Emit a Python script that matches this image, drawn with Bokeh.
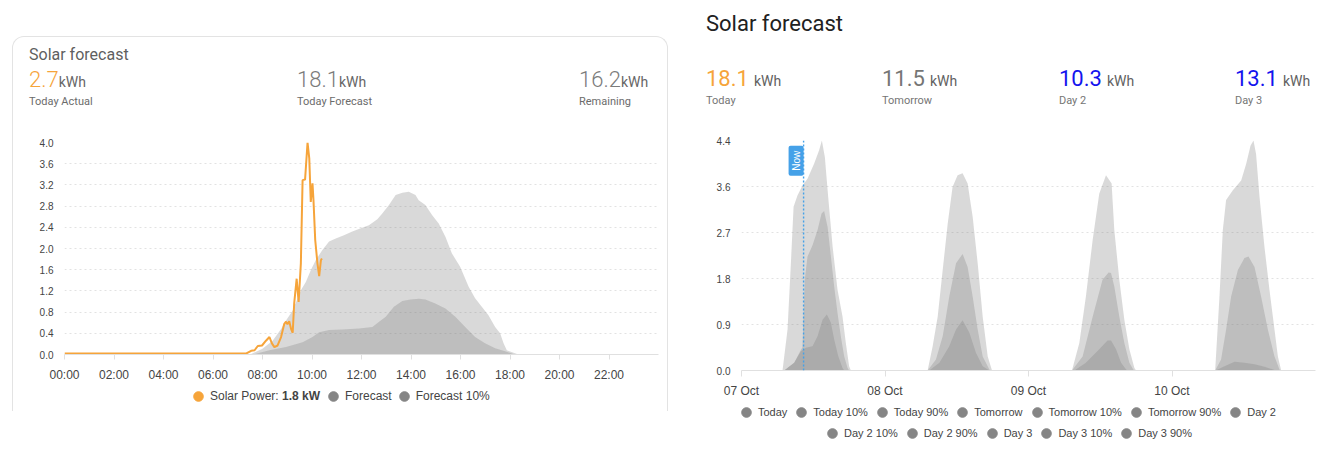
import math
import pandas as pd
from bokeh.plotting import figure
from bokeh.models import (ColumnDataSource, Div, Spacer, Legend, LegendItem,
                          FixedTicker, DatetimeTickFormatter, Span, Label, Range1d)
from bokeh.layouts import row, column
from bokeh.core.properties import value
from bokeh.embed import file_html
from bokeh.resources import INLINE

# ------------------------------------------------------------------ data
day0 = "2023-10-07"
now_time = "2023-10-07 10:23"

left_title = "Solar forecast"
left_values = ["2.7", "18.1", "16.2"]
left_labels = ["Today Actual", "Today Forecast", "Remaining"]
right_title = "Solar forecast"
right_values = ["18.1", "11.5", "10.3", "13.1"]
right_labels = ["Today", "Tomorrow", "Day 2", "Day 3"]
unit = "kWh"

# left chart: today's measured power and forecast (hours of day, kW)
solar_h = [0.0, 7.35, 7.54, 7.68, 7.81, 7.98, 8.14, 8.28, 8.38, 8.48, 8.61, 8.75, 8.88,
           8.95, 9.01, 9.08, 9.15, 9.22, 9.28, 9.38, 9.46, 9.55, 9.62, 9.72, 9.82, 9.89,
           9.95, 10.02, 10.06, 10.13, 10.22, 10.29, 10.36, 10.40]
solar_kw = [0.02, 0.02, 0.07, 0.08, 0.16, 0.17, 0.26, 0.33, 0.21, 0.14, 0.17, 0.33, 0.58,
            0.62, 0.57, 0.63, 0.49, 0.41, 0.96, 1.43, 0.99, 1.72, 3.29, 3.30, 4.00, 3.70,
            2.88, 3.23, 2.91, 2.16, 1.72, 1.48, 1.78, 1.81]
forecast_h = [7.50, 8.00, 8.41, 8.75, 8.95, 9.22, 9.55, 9.75, 9.95, 10.15, 10.42, 10.69,
              10.96, 11.29, 11.63, 11.97, 12.30, 12.64, 12.84, 13.11, 13.38, 13.65, 13.91,
              14.18, 14.31, 14.58, 14.85, 15.12, 15.39, 15.65, 15.99, 16.33, 16.59, 16.86,
              17.13, 17.40, 17.60, 17.74, 17.87, 18.34]
forecast_kw = [0.00, 0.11, 0.26, 0.48, 0.64, 0.83, 1.21, 1.37, 1.59, 1.78, 1.97, 2.13,
               2.19, 2.25, 2.32, 2.38, 2.44, 2.55, 2.66, 2.82, 3.01, 3.05, 3.07,
               3.01, 2.91, 2.82, 2.63, 2.47, 2.22, 1.91, 1.65, 1.28, 1.06, 0.90,
               0.74, 0.52, 0.40, 0.21, 0.08, 0.00]
forecast10_h = [7.60, 8.28, 8.95, 9.62, 10.02, 10.29, 10.69, 11.23, 11.90, 12.44, 12.71,
                12.98, 13.31, 13.65, 13.98, 14.32, 14.58, 14.98, 15.39, 15.79, 16.19,
                16.59, 16.99, 17.40, 17.80, 18.20]
forecast10_kw = [0.00, 0.08, 0.14, 0.23, 0.33, 0.42, 0.46, 0.47, 0.49, 0.52, 0.62,
                 0.71, 0.90, 1.01, 1.04, 1.05, 1.04, 0.96, 0.87, 0.71, 0.52,
                 0.33, 0.21, 0.12, 0.06, 0.00]
left_y_ticks = [0.0, 0.4, 0.8, 1.2, 1.6, 2.0, 2.4, 2.8, 3.2, 3.6, 4.0]
left_y_labels = ["0.0", "0.4", "0.8", "1.2", "1.6", "2.0", "2.4", "2.8", "3.2", "3.6", "4.0"]
left_x_hours = [0, 2, 4, 6, 8, 10, 12, 14, 16, 18, 20, 22]
left_legend = ["Solar Power:", "1.8 kW", "Forecast", "Forecast 10%"]

# right chart: four days of forecasts (hours of that day, kW)
today_h = [7.13, 8.81, 9.94, 10.20, 10.58, 11.04, 11.88, 12.72, 13.39, 13.82, 14.40, 14.95,
           15.50, 16.06, 16.61, 17.18, 17.74, 18.00]
today_kw = [0, 0.15, 0.40, 0.45, 1.75, 2.20, 2.42, 2.71, 3.03, 3.08, 2.77, 2.20,
            1.62, 1.11, 0.66, 0.27, 0.05, 0]
today10_h = [7.13, 8.81, 9.94, 10.76, 11.88, 12.72, 13.56, 14.28, 14.95, 15.50, 16.17, 16.89, 17.18]
today10_kw = [0, 0.15, 0.37, 0.44, 0.47, 0.66, 0.98, 1.08, 0.92, 0.60, 0.28, 0.05, 0]
today90_h = [6.86, 7.70, 8.26, 8.71, 9.36, 10.20, 11.04, 12.14, 12.98, 13.44, 13.94, 14.50,
             15.24, 16.06, 16.90, 17.45, 18.00, 18.29]
today90_kw = [0, 0.79, 2.07, 3.16, 3.38, 3.57, 3.70, 3.99, 4.25, 4.44, 4.12, 3.35,
              2.39, 1.56, 1.04, 0.53, 0.08, 0]
tomorrow_h = [7.13, 8.52, 9.65, 10.75, 11.88, 12.98, 13.82, 14.66, 15.50, 16.34, 17.45, 17.60]
tomorrow_kw = [0, 0.21, 0.66, 1.43, 2.07, 2.25, 2.00, 1.43, 0.79, 0.27, 0.02, 0]
tomorrow10_h = [7.39, 9.10, 10.75, 11.88, 12.98, 14.11, 15.22, 16.34, 17.45]
tomorrow10_kw = [0, 0.15, 0.47, 0.79, 0.97, 0.73, 0.34, 0.08, 0]
tomorrow90_h = [7.13, 7.97, 8.81, 9.65, 10.49, 11.30, 12.14, 12.98, 13.82, 14.66, 15.50,
                16.34, 17.18, 17.90]
tomorrow90_kw = [0, 0.47, 1.04, 1.94, 2.84, 3.54, 3.77, 3.81, 3.61, 2.97, 2.07, 1.04, 0.27, 0]
day2_h = [7.27, 9.05, 10.73, 12.38, 13.39, 13.80, 14.35, 15.19, 16.03, 16.87, 17.52, 17.70]
day2_kw = [0, 0.27, 1.04, 1.75, 1.89, 1.88, 1.62, 1.04, 0.53, 0.15, 0.02, 0]
day2_10_h = [7.68, 9.60, 11.83, 13.22, 13.80, 14.64, 15.48, 16.32, 16.60]
day2_10_kw = [0, 0.15, 0.41, 0.58, 0.58, 0.41, 0.15, 0.02, 0]
day2_90_h = [7.27, 8.50, 9.60, 10.73, 11.83, 12.96, 13.90, 14.35, 15.19, 16.03, 16.87, 17.71, 18.00]
day2_90_kw = [0, 0.53, 1.43, 2.52, 3.41, 3.77, 3.61, 2.71, 1.75, 0.98, 0.41, 0.05, 0]
day3_h = [7.22, 8.21, 9.05, 9.89, 11.02, 12.12, 12.79, 13.80, 14.90, 16.03, 17.14, 17.98, 18.10]
day3_kw = [0, 0.21, 0.79, 1.43, 1.94, 2.17, 2.20, 2.00, 1.43, 0.79, 0.27, 0.02, 0]
day3_10_h = [7.32, 8.78, 10.46, 12.12, 13.80, 15.46, 17.14, 17.40]
day3_10_kw = [0, 0.08, 0.17, 0.15, 0.12, 0.07, 0.01, 0]
day3_90_h = [7.22, 7.94, 8.50, 9.05, 10.18, 11.57, 12.41, 13.13, 13.63, 14.06, 14.64, 15.46,
             16.30, 17.14, 17.71, 18.26]
day3_90_kw = [0, 1.43, 2.71, 3.29, 3.48, 3.67, 3.99, 4.34, 4.44, 4.18, 3.35, 2.39,
              1.56, 0.79, 0.27, 0]

right_series_names = ["Today", "Today 10%", "Today 90%", "Tomorrow", "Tomorrow 10%",
                      "Tomorrow 90%", "Day 2", "Day 2 10%", "Day 2 90%", "Day 3",
                      "Day 3 10%", "Day 3 90%"]
right_series_day = [0, 0, 0, 1, 1, 1, 2, 2, 2, 3, 3, 3]
right_series_h = [today_h, today10_h, today90_h, tomorrow_h, tomorrow10_h, tomorrow90_h,
                  day2_h, day2_10_h, day2_90_h, day3_h, day3_10_h, day3_90_h]
right_series_kw = [today_kw, today10_kw, today90_kw, tomorrow_kw, tomorrow10_kw, tomorrow90_kw,
                   day2_kw, day2_10_kw, day2_90_kw, day3_kw, day3_10_kw, day3_90_kw]
right_y_ticks = [0.0, 0.888, 1.776, 2.664, 3.552, 4.44]
right_y_labels = ["0.0", "0.9", "1.8", "2.7", "3.6", "4.4"]
right_x_days = [0, 1, 2, 3]
right_days_span = 4

# ------------------------------------------------------------------ styles
ORANGE = "#f6a43a"
AREA = "#7c7c7c"
AREA_ALPHA = 0.29
DOT_GRAY = "#858585"
GRID = "#e2e2e2"
AXIS = "#e0e0e0"
TXT = "#444444"
NOW_BLUE = "#45a1e8"
CHART_FONT = "Liberation Sans"
HEAD_FONT = "Roboto"

base = pd.Timestamp(day0)


def to_times(day, hours):
    return (base + pd.to_timedelta([day * 24 + h for h in hours], unit="h")).to_numpy()


def ms(ts):
    return pd.Timestamp(ts).value / 1e6


def style_fig(p, ytick_vals, ytick_labels, xtick_out, xstandoff):
    p.outline_line_color = None
    p.background_fill_color = "white"
    p.border_fill_color = "white"
    p.xgrid.grid_line_color = None
    p.ygrid.grid_line_color = GRID
    p.ygrid.grid_line_dash = "2 3"
    p.yaxis.ticker = FixedTicker(ticks=ytick_vals)
    p.yaxis.major_label_overrides = dict(zip(ytick_vals, ytick_labels))
    p.yaxis.axis_line_color = None
    p.yaxis.major_tick_line_color = None
    p.yaxis.minor_tick_line_color = None
    p.yaxis.major_tick_out = 0
    p.yaxis.major_label_standoff = 11
    p.yaxis.major_label_text_font = CHART_FONT
    p.yaxis.major_label_text_font_size = "10px"
    p.yaxis.major_label_text_color = TXT
    p.xaxis.axis_line_color = AXIS
    p.xaxis.major_tick_line_color = AXIS
    p.xaxis.minor_tick_line_color = None
    p.xaxis.major_tick_in = 0
    p.xaxis.major_tick_out = xtick_out
    p.xaxis.major_label_standoff = xstandoff
    p.xaxis.major_label_text_font = CHART_FONT
    p.xaxis.major_label_text_font_size = "12px"
    p.xaxis.major_label_text_color = TXT


def legend_fig(width, height):
    # a strip below each chart that carries only the legend (its view range is empty)
    f = figure(width=width, height=height, x_range=Range1d(0, 1), y_range=Range1d(0, 1),
               output_backend="svg", toolbar_location=None, x_axis_location=None,
               y_axis_location=None, min_border=0)
    f.outline_line_color = None
    f.grid.grid_line_color = None
    f.background_fill_color = "white"
    f.border_fill_color = "white"
    return f


def make_legend(items, loc, font_size, spacing, bold=False, glyph=24):
    return Legend(items=items, location=loc, orientation="horizontal",
                  glyph_width=glyph, glyph_height=24, label_standoff=0,
                  spacing=spacing, padding=0, margin=0,
                  border_line_color=None, background_fill_alpha=0,
                  label_text_font=CHART_FONT, label_text_font_size=font_size,
                  label_text_color=TXT,
                  label_text_font_style="bold" if bold else "normal")


def dot(f, source, color, visible=True):
    # series points, outside the legend strip's view; only their legend marker shows
    return f.scatter(x="x", y="y", source=source, marker="circle", fill_color=color,
                     line_color=color, fill_alpha=1 if visible else 0,
                     line_alpha=1 if visible else 0)


# ------------------------------------------------------------------ left chart
p1 = figure(width=654, height=254, x_axis_type="datetime",
            x_range=Range1d(base.to_pydatetime(), (base + pd.Timedelta(hours=24)).to_pydatetime()),
            y_range=Range1d(0, 4.0), output_backend="svg", toolbar_location=None,
            min_border_left=51, min_border_right=9, min_border_top=12, min_border_bottom=30)
style_fig(p1, left_y_ticks, left_y_labels, 5, 8)
p1.xaxis.ticker = FixedTicker(ticks=[ms(base + pd.Timedelta(hours=h)) for h in left_x_hours])
p1.xaxis.formatter = DatetimeTickFormatter(hours="%H:%M", hourmin="%H:%M", minutes="%H:%M",
                                           days="%H:%M")

src_fc = ColumnDataSource(dict(x=to_times(0, forecast_h), y=forecast_kw))
src_fc10 = ColumnDataSource(dict(x=to_times(0, forecast10_h), y=forecast10_kw))
src_solar = ColumnDataSource(dict(x=to_times(0, solar_h), y=solar_kw))
p1.varea(x="x", y1=0, y2="y", source=src_fc, fill_color=AREA, fill_alpha=AREA_ALPHA)
p1.varea(x="x", y1=0, y2="y", source=src_fc10, fill_color=AREA, fill_alpha=AREA_ALPHA)
p1.line(x="x", y="y", source=src_solar, line_color=ORANGE, line_width=2)

pl1 = legend_fig(654, 27)
d_solar = dot(pl1, src_solar, ORANGE)
d_blank = dot(pl1, src_solar, ORANGE, visible=False)
d_fc = dot(pl1, src_fc, DOT_GRAY)
d_fc10 = dot(pl1, src_fc10, DOT_GRAY)
pl1.add_layout(make_legend([LegendItem(label=value(left_legend[0]), renderers=[d_solar])],
                           (122, 3), "12px", 0))
pl1.add_layout(make_legend([LegendItem(label=value(left_legend[1]), renderers=[d_blank])],
                           (217, 3), "12px", 0, bold=True, glyph=1))
pl1.add_layout(make_legend([LegendItem(label=value(left_legend[2]), renderers=[d_fc]),
                            LegendItem(label=value(left_legend[3]), renderers=[d_fc10])],
                           (257, 3), "12px", 0))

# ------------------------------------------------------------------ right chart
p2 = figure(width=616, height=272, x_axis_type="datetime",
            x_range=Range1d(base.to_pydatetime(),
                            (base + pd.Timedelta(days=right_days_span)).to_pydatetime()),
            y_range=Range1d(0, right_y_ticks[-1]), output_backend="svg", toolbar_location=None,
            min_border_left=41, min_border_right=1, min_border_top=12, min_border_bottom=29)
style_fig(p2, right_y_ticks, right_y_labels, 6, 7)
p2.xaxis.ticker = FixedTicker(ticks=[ms(base + pd.Timedelta(days=d)) for d in right_x_days])
p2.xaxis.formatter = DatetimeTickFormatter(days="%d %b", hours="%d %b", months="%d %b")

pl2 = legend_fig(616, 46)
dummies = []
for name, d, hs, kws in zip(right_series_names, right_series_day, right_series_h, right_series_kw):
    src = ColumnDataSource(dict(x=to_times(d, hs), y=kws))
    p2.varea(x="x", y1=0, y2="y", source=src, fill_color=AREA, fill_alpha=AREA_ALPHA)
    dummies.append(dot(pl2, src, DOT_GRAY))

items = [LegendItem(label=value(n), renderers=[r]) for n, r in zip(right_series_names, dummies)]
pl2.add_layout(make_legend(items[:7], (-7, 22), "11px", 2))
pl2.add_layout(make_legend(items[7:], (79, 1), "11px", 2))

now_ms = ms(now_time)
p2.add_layout(Span(location=now_ms, dimension="height", line_color=NOW_BLUE,
                   line_dash="2 2", line_width=1.4))
p2.add_layout(Label(x=now_ms, y=4.34, text="Now", angle=math.pi / 2,
                    text_align="right", text_baseline="bottom", x_offset=0,
                    text_color="white", text_font=CHART_FONT, text_font_size="10px",
                    background_fill_color=NOW_BLUE, padding=(5, 2), border_radius=2))

# ------------------------------------------------------------------ headers
def left_header():
    xs = [16, 284, 566]
    vcolors = [ORANGE, "#7b7b7b", "#7b7b7b"]
    parts = [f'<div style="position:absolute;left:16px;top:8px;font-size:16px;'
             f'color:#5f5f5f;white-space:nowrap;line-height:normal;">{left_title}</div>']
    for x, v, lab, c in zip(xs, left_values, left_labels, vcolors):
        parts.append(
            f'<div style="position:absolute;left:{x}px;top:30px;font-size:22px;'
            f'white-space:nowrap;line-height:normal;">'
            f'<span style="color:{c};font-weight:300;">{v}</span>'
            f'<span style="font-size:14px;color:#666666;">{unit}</span></div>')
        parts.append(
            f'<div style="position:absolute;left:{x}px;top:58px;font-size:11px;'
            f'color:#6b6b6b;white-space:nowrap;line-height:normal;">{lab}</div>')
    return (f'<div style="position:relative;width:654px;height:93px;'
            f'font-family:{HEAD_FONT},sans-serif;">' + "".join(parts) + "</div>")


def right_header():
    xs = [6, 182, 359, 535]
    vcolors = [ORANGE, "#757575", "#1414ee", "#1414ee"]
    parts = [f'<div style="position:absolute;left:6px;top:3px;font-size:22px;'
             f'color:#212121;white-space:nowrap;line-height:normal;">{right_title}</div>']
    for x, v, lab, c in zip(xs, right_values, right_labels, vcolors):
        parts.append(
            f'<div style="position:absolute;left:{x}px;top:58px;font-size:22px;'
            f'white-space:nowrap;line-height:normal;">'
            f'<span style="color:{c};">{v}</span>'
            f'<span style="font-size:14px;color:#616161;margin-left:5px;">{unit}</span></div>')
        parts.append(
            f'<div style="position:absolute;left:{x}px;top:86px;font-size:11px;'
            f'color:#757575;white-space:nowrap;line-height:normal;">{lab}</div>')
    return (f'<div style="position:relative;width:616px;height:120px;'
            f'font-family:{HEAD_FONT},sans-serif;">' + "".join(parts) + "</div>")


div_left = Div(text=left_header(), width=654, height=93, margin=0)
div_right = Div(text=right_header(), width=616, height=120, margin=0)

card = column(div_left, p1, pl1, spacing=0,
              styles={"border-top": "1px solid #e3e3e3", "border-left": "1px solid #e3e3e3",
                      "border-right": "1px solid #e3e3e3",
                      "border-radius": "12px 12px 0 0", "background": "white"})
left_block = column(Spacer(width=656, height=36), card, spacing=0)
right_block = column(Spacer(width=616, height=8), div_right, p2, pl2, spacing=0)
layout = row(Spacer(width=12, height=446), left_block, Spacer(width=32, height=10), right_block,
             spacing=0)

open("out.html", "w").write(file_html(layout, INLINE))
